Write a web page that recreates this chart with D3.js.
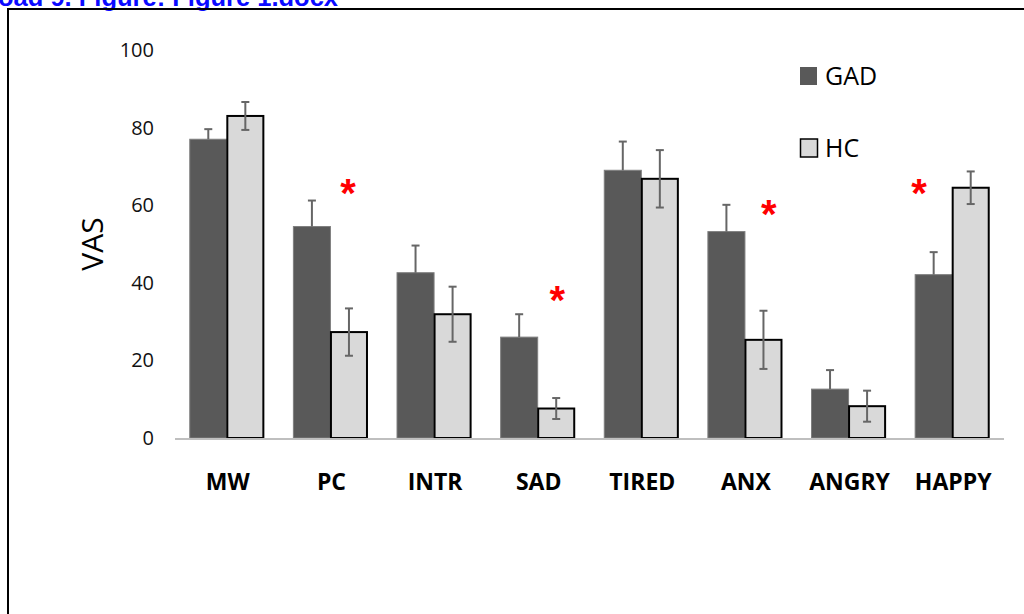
<!DOCTYPE html>
<html>
<head>
<meta charset="utf-8">
<script src="https://cdn.jsdelivr.net/npm/d3@7"></script>
<style>
  html, body { margin: 0; padding: 0; background: #fff; overflow: hidden; }
  svg { display: block; }
</style>
</head>
<body>
<svg id="chart" width="1024" height="614"></svg>
<script>
// ---- data ----
const categories = ["MW", "PC", "INTR", "SAD", "TIRED", "ANX", "ANGRY", "HAPPY"];
const seriesNames = ["GAD", "HC"];
const gadValues = [77, 54.5, 42.6, 26, 69, 53.2, 12.6, 42.1];
const gadErrors = [2.6, 6.7, 7, 5.9, 7.4, 6.9, 4.9, 5.8];
const hcValues = [83, 27.3, 31.9, 7.6, 66.8, 25.3, 8.2, 64.5];
const hcErrors = [3.6, 6.1, 7.1, 2.7, 7.4, 7.5, 4, 4.2];
const yTicks = [0, 20, 40, 60, 80, 100];
// significance markers: position along the category axis (index units) and VAS level
const sigCategoryPos = [1.17, 3.19, 5.23, 6.68];
const sigLevels = [64.7, 37.1, 59.3, 64.7];
const headerText = "oad 9. Figure: Figure 1.docx";
const yTitle = "VAS";

// ---- layout ----
const svg = d3.select("#chart");
const left = 175, right = 1004, y0px = 438, y100px = 50;

const x = d3.scaleBand().domain(categories).range([left, right]).paddingInner(0.285).paddingOuter(0.1425);
const xs = d3.scaleBand().domain(seriesNames).range([0, x.bandwidth()]);
const xPos = d3.scaleLinear().domain([-0.5, categories.length - 0.5]).range([left, right]);
const y = d3.scaleLinear().domain([0, 100]).range([y0px, y100px]);

const colors = { GAD: "#595959", HC: "#d9d9d9" };

// header text & frame
svg.append("text")
  .attr("x", -2).attr("y", 6)
  .attr("font-family", "Liberation Sans, Arial, sans-serif")
  .attr("font-weight", "bold")
  .attr("font-size", 25.5)
  .attr("fill", "#0a0aff")
  .text(headerText);

svg.append("path")
  .attr("d", "M8,614 L8,9 L1024,9")
  .attr("fill", "none").attr("stroke", "#000").attr("stroke-width", 2);

// y axis (labels only)
const yAxis = svg.append("g")
  .attr("transform", `translate(${154},0)`)
  .call(d3.axisLeft(y).tickValues(yTicks).tickSize(0).tickPadding(0).tickFormat(d3.format("d")));
yAxis.select(".domain").remove();
yAxis.selectAll("text")
  .attr("font-family", "Open Sans, sans-serif")
  .attr("font-size", 20)
  .attr("fill", "#111");

// y title
svg.append("text")
  .attr("transform", `translate(103,244) rotate(-90)`)
  .attr("text-anchor", "middle")
  .attr("font-family", "Open Sans, sans-serif")
  .attr("font-size", 30)
  .attr("fill", "#000")
  .text(yTitle);

// data rows
const rows = categories.map((c, i) => ({
  cat: c,
  bars: [
    { s: "GAD", v: gadValues[i], e: gadErrors[i] },
    { s: "HC", v: hcValues[i], e: hcErrors[i] }
  ]
}));

const groups = svg.append("g").selectAll("g").data(rows).join("g")
  .attr("transform", d => `translate(${x(d.cat)},0)`);

groups.selectAll("rect").data(d => d.bars).join("rect")
  .attr("x", d => xs(d.s) + (d.s === "HC" ? 0.5 : 0))
  .attr("y", d => y(d.v))
  .attr("width", d => xs.bandwidth() - (d.s === "HC" ? 1 : 0))
  .attr("height", d => y(0) - y(d.v))
  .attr("fill", d => colors[d.s])
  .attr("stroke", d => d.s === "HC" ? "#000" : "#7f7f7f")
  .attr("stroke-width", d => d.s === "HC" ? 2 : 1);

// x axis line
svg.append("line")
  .attr("x1", left).attr("x2", right)
  .attr("y1", y(0) + 1).attr("y2", y(0) + 1)
  .attr("stroke", "#bfbfbf").attr("stroke-width", 2);

// error bars (GAD lower half hidden within the dark bar)
const lowEnd = d => d.s === "GAD" ? d.v : d.v - d.e;
const eb = groups.selectAll("g.err").data(d => d.bars).join("g").attr("class", "err")
  .attr("stroke", "#666").attr("stroke-width", 2);
eb.append("line")
  .attr("x1", d => xs(d.s) + xs.bandwidth() / 2)
  .attr("x2", d => xs(d.s) + xs.bandwidth() / 2)
  .attr("y1", d => y(d.v + d.e))
  .attr("y2", d => y(lowEnd(d)));
eb.append("line")
  .attr("x1", d => xs(d.s) + xs.bandwidth() / 2 - 4)
  .attr("x2", d => xs(d.s) + xs.bandwidth() / 2 + 4)
  .attr("y1", d => y(d.v + d.e)).attr("y2", d => y(d.v + d.e));
eb.filter(d => d.s === "HC").append("line")
  .attr("x1", d => xs(d.s) + xs.bandwidth() / 2 - 4)
  .attr("x2", d => xs(d.s) + xs.bandwidth() / 2 + 4)
  .attr("y1", d => y(d.v - d.e)).attr("y2", d => y(d.v - d.e));

// category labels
svg.append("g").selectAll("text").data(categories).join("text")
  .attr("x", d => x(d) + x.bandwidth() / 2 + 1)
  .attr("y", 490)
  .attr("text-anchor", "middle")
  .attr("font-family", "Open Sans, sans-serif")
  .attr("font-weight", "bold")
  .attr("font-size", 23)
  .attr("fill", "#000")
  .text(d => d);

// significance asterisks
svg.append("g").selectAll("text").data(sigCategoryPos.map((p, i) => ({ p, v: sigLevels[i] }))).join("text")
  .attr("x", d => xPos(d.p))
  .attr("y", d => y(d.v) + 20)
  .attr("text-anchor", "middle")
  .attr("font-family", "Liberation Sans, Arial, sans-serif")
  .attr("font-weight", "bold")
  .attr("font-size", 40)
  .attr("fill", "#ff0000")
  .text("*");

// legend
const legendRows = [ { s: "GAD", y: 76 }, { s: "HC", y: 148 } ];
const lg = svg.append("g").selectAll("g").data(legendRows).join("g")
  .attr("transform", d => `translate(800,${d.y})`);
lg.append("rect")
  .attr("x", d => d.s === "HC" ? 0.5 : 0)
  .attr("y", -9)
  .attr("width", 17).attr("height", 18)
  .attr("fill", d => colors[d.s])
  .attr("stroke", d => d.s === "HC" ? "#000" : "none")
  .attr("stroke-width", 1.5);
lg.append("text")
  .attr("x", 25).attr("y", 9)
  .attr("font-family", "Open Sans, sans-serif")
  .attr("font-size", 25)
  .attr("fill", "#000")
  .text(d => d.s);
</script>
</body>
</html>
